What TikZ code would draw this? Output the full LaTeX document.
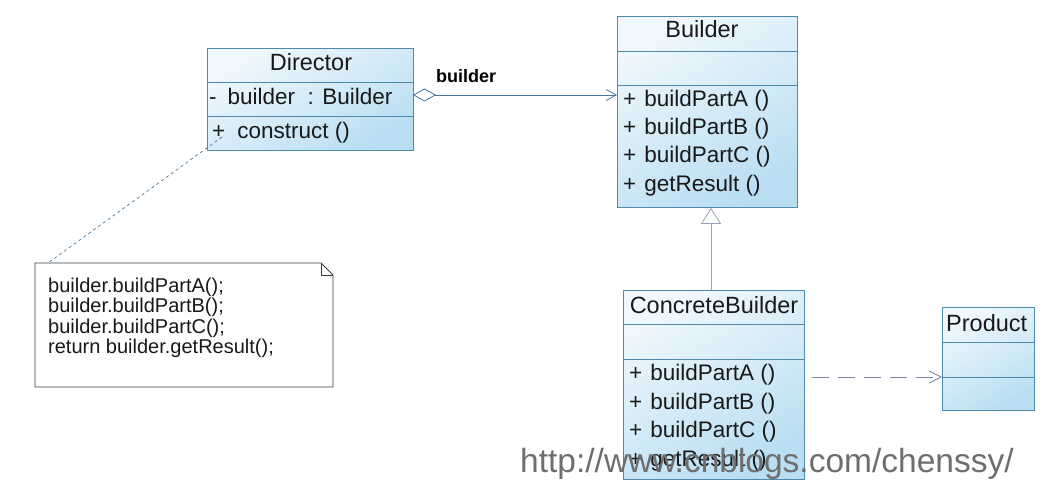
\documentclass[tikz,border=0pt]{standalone}
\usepackage{fontspec}
\setmainfont{Liberation Sans}
\usetikzlibrary{arrows.meta}
\definecolor{cborder}{RGB}{78,138,172}
\definecolor{ctop}{RGB}{240,248,253}
\definecolor{cbot}{RGB}{185,222,242}
\definecolor{ctext}{RGB}{25,25,25}
\definecolor{cline}{RGB}{70,120,160}
\definecolor{cdep}{RGB}{125,135,165}
\definecolor{cgen}{RGB}{150,160,185}
\definecolor{cnote}{RGB}{60,60,60}
\definecolor{cwm}{RGB}{110,110,110}
\tikzset{
  classbox/.style={draw=cborder, line width=0.9pt, rectangle, anchor=north west, inner sep=0pt,
    top color=ctop, bottom color=cbot, shading angle=30},
  sep/.style={draw=cborder, line width=0.9pt},
  ctitle/.style={font=\fontsize{23.5}{24}\selectfont, text=ctext, inner sep=0pt, anchor=base},
  member/.style={font=\fontsize{22.5}{23}\selectfont, text=ctext, anchor=base west, inner sep=0pt},
  notetext/.style={font=\fontsize{20}{20.4}\selectfont, text=ctext, anchor=base west, inner sep=0pt},
  assoc/.style={draw=cline, line width=0.8pt},
  dep/.style={draw=cdep, line width=0.8pt, dash pattern=on 17pt off 9pt},
  gen/.style={draw=cgen, line width=0.9pt},
  notelink/.style={draw=cline, line width=0.7pt, dash pattern=on 3pt off 3pt},
}
\newcommand{\pl}{+\hspace{8pt}}
\begin{document}
\begin{tikzpicture}[x=1pt,y=-1pt]
\useasboundingbox[fill=white] (0,0) rectangle (1060,492);

% Director
\node[classbox, minimum width=206pt, minimum height=102pt] (director) at (207,48) {};
\draw[sep] (207,82) -- (413,82);
\draw[sep] (207,116) -- (413,116);
\node[ctitle] (dtitle) at (311,71) {Director};
\node[member] (dattr) at (209,105) {-\hspace{11pt}builder\ \ : Builder};
\node[member] (dop) at (212,139) {+\hspace{12pt}construct ()};

% Builder
\node[classbox, minimum width=180pt, minimum height=191pt] (builder) at (617,16) {};
\draw[sep] (617,51) -- (797,51);
\draw[sep] (617,85) -- (797,85);
\node[ctitle] (btitle) at (702,38) {Builder};
\node[member] (b1) at (623,107) {\pl buildPartA ()};
\node[member] (b2) at (623,135) {\pl buildPartB ()};
\node[member] (b3) at (623,163) {\pl buildPartC ()};
\node[member] (b4) at (623,191) {\pl getResult ()};

% ConcreteBuilder
\node[classbox, minimum width=181pt, minimum height=189pt] (cbuilder) at (623,290) {};
\draw[sep] (623,324) -- (804,324);
\draw[sep] (623,359) -- (804,359);
\node[ctitle] (cbtitle) at (714,313) {ConcreteBuilder};
\node[member] (c1) at (629,380) {\pl buildPartA ()};
\node[member] (c2) at (629,409) {\pl buildPartB ()};
\node[member] (c3) at (629,437) {\pl buildPartC ()};
\node[member] (c4) at (629,466) {\pl getResult ()};

% Product
\node[classbox, minimum width=92pt, minimum height=103pt] (product) at (942,307) {};
\draw[sep] (942,342) -- (1034,342);
\draw[sep] (942,377) -- (1034,377);
\node[ctitle, anchor=base west] (ptitle) at (946,331) {Product};

% Note
\node[minimum width=298pt, minimum height=124pt, anchor=north west, inner sep=0pt] (note) at (35,263) {};
\draw[cnote, line width=0.9pt, fill=white] (35,263) -- (321,263) -- (333,275) -- (333,387) -- (35,387) -- cycle;
\draw[cnote, line width=0.8pt] (321,263) -- (321,275) -- (333,275);
\node[notetext] (n1) at (48,292) {builder.buildPartA();};
\node[notetext] (n2) at (48,312.5) {builder.buildPartB();};
\node[notetext] (n3) at (48,333) {builder.buildPartC();};
\node[notetext] (n4) at (48,353.5) {return builder.getResult();};

% Connectors
\coordinate (nstart) at (222,137);
\draw[notelink] (nstart) -- (note.north west -| 48,0);

\coordinate (astart) at (413,95);
\draw[assoc, {Diamond[open, length=23pt, width=13pt, line width=0.8pt]}-{Straight Barb[length=10pt, width=11pt, line width=0.8pt]}]
  (astart) -- (astart -| builder.west);
\node[font=\fontsize{18}{18}\selectfont\bfseries, inner sep=0pt, anchor=base west] (alabel) at (436,83) {builder};

\coordinate (gstart) at (711,290);
\draw[gen, -{Triangle[open, length=16pt, width=20pt, line width=0.8pt]}] (gstart) -- (gstart |- builder.south);

\coordinate (dstart) at (812,377);
\draw[dep, -{Straight Barb[length=12pt, width=12pt, line width=0.8pt]}] (dstart) -- (dstart -| product.west);

% Watermark
\node[font=\fontsize{33.5}{34}\selectfont, text=cwm, anchor=base west, inner sep=0pt] (wm) at (520,472) {http://www.cnblogs.com/chenssy/};
\end{tikzpicture}
\end{document}
